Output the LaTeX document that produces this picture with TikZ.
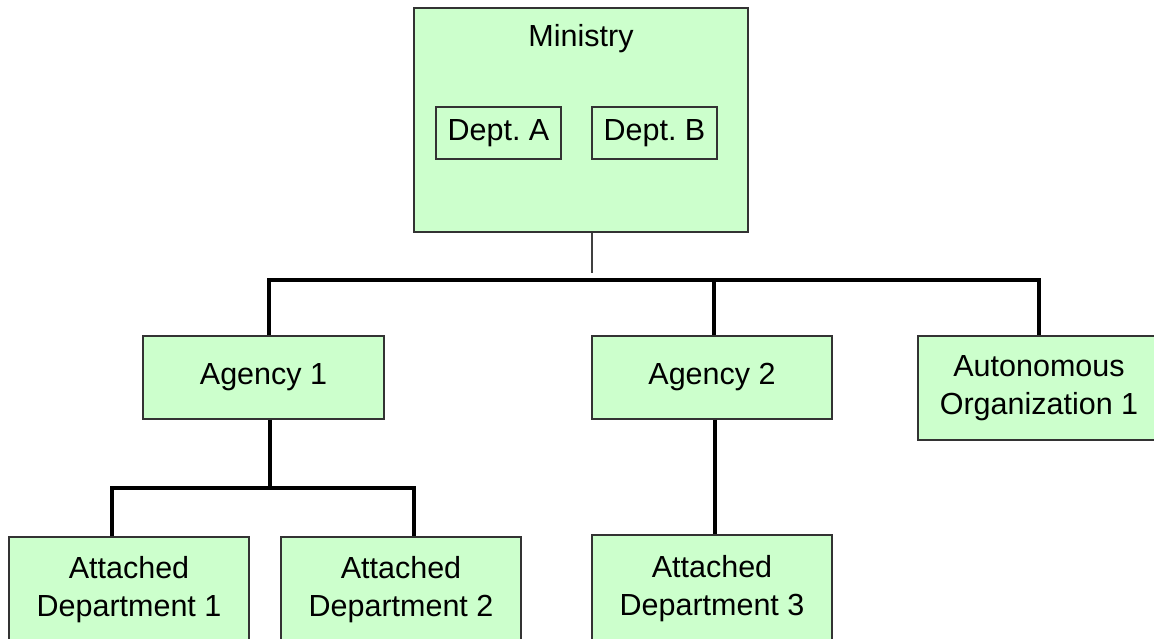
\documentclass[tikz,border=0pt]{standalone}
\usepackage{fontspec}
\setmainfont{Liberation Sans}
\frenchspacing
\definecolor{boxgreen}{HTML}{CCFFCC}
\definecolor{boxline}{HTML}{333333}
\begin{document}
\begin{tikzpicture}[x=1pt,y=-1pt,
  orgbox/.style={draw=boxline, line width=1.2pt, fill=boxgreen, rectangle, inner sep=0pt,
    align=center, font=\fontsize{30.5}{38}\selectfont},
  subbox/.style={draw=boxline, line width=1.2pt, fill=boxgreen, rectangle, inner sep=0pt,
    minimum width=125pt, minimum height=52pt, font=\fontsize{30.5}{38}\selectfont},
  thickconn/.style={line width=4.5pt, black, line cap=butt},
  thinconn/.style={line width=1.5pt, black!75}]
\useasboundingbox (0,0) rectangle (1154,638);
% Ministry
\node[orgbox, minimum width=334pt, minimum height=224pt] (min) at (581,120) {};
\node[anchor=base, font=\fontsize{30.5}{38}\selectfont, inner sep=0pt] (mintext) at (581,46) {Ministry};
\node[subbox] (depa) at (498.5,133) {Dept. A};
\node[subbox] (depb) at (654.5,133) {Dept. B};
% second level
\node[orgbox, minimum width=241pt, minimum height=83pt] (ag1) at (263.5,377.5) {Agency 1};
\node[orgbox, minimum width=240pt, minimum height=83pt] (ag2) at (712,377.5) {Agency 2};
\node[orgbox, minimum width=242pt, minimum height=104pt] (auto) at (1039,388) {Autonomous\\Organization 1};
% third level
\node[orgbox, minimum width=240pt, minimum height=106pt] (att1) at (129,590) {Attached\\Department 1};
\node[orgbox, minimum width=240pt, minimum height=106pt] (att2) at (401,590) {Attached\\Department 2};
\node[orgbox, minimum width=240pt, minimum height=108pt] (att3) at (712,589) {Attached\\Department 3};
% connectors
\coordinate (bus) at (592,280);
\draw[thinconn] ([xshift=11pt]min.south) -- ([yshift=7pt]bus);
\draw[thickconn] ([xshift=5.5pt]ag1.north) |- (bus) -| (auto.north);
\draw[thickconn] (bus) -| ([xshift=2pt]ag2.north);
\coordinate (bus2) at (270,488);
\draw[thickconn] ([xshift=6.5pt]ag1.south) -- (bus2);
\draw[thickconn] ([xshift=-17pt]att1.north) |- (bus2) -| ([xshift=13pt]att2.north);
\draw[thickconn] ([xshift=3pt]ag2.south) -- ([xshift=3pt]att3.north);
\end{tikzpicture}
\end{document}
